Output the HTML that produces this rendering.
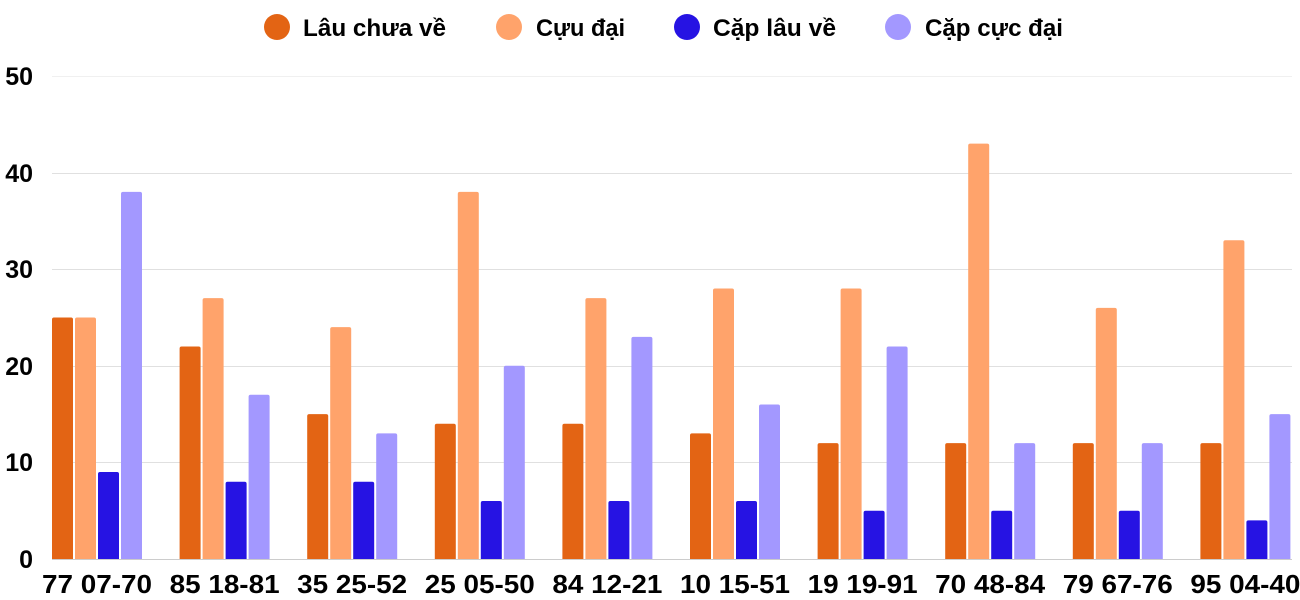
<!DOCTYPE html>
<html><head><meta charset="utf-8"><style>
html,body{margin:0;padding:0;background:#fff;}
svg{display:block;}
text{font-family:"Liberation Sans Narrow","Liberation Sans",sans-serif;font-weight:bold;fill:#000;}
</style></head><body>
<svg width="1300" height="600" xmlns="http://www.w3.org/2000/svg">
<g font-size="24">
<circle cx="277" cy="27" r="13" fill="#e36414"/><text x="303" y="36" textLength="143" lengthAdjust="spacingAndGlyphs">Lâu chưa về</text>
<circle cx="509" cy="27" r="13" fill="#ffa36b"/><text x="536" y="36" textLength="89" lengthAdjust="spacingAndGlyphs">Cựu đại</text>
<circle cx="687" cy="27" r="13" fill="#2613e3"/><text x="713" y="36" textLength="123" lengthAdjust="spacingAndGlyphs">Cặp lâu về</text>
<circle cx="898" cy="27" r="13" fill="#a398ff"/><text x="925" y="36" textLength="138" lengthAdjust="spacingAndGlyphs">Cặp cực đại</text>
</g>
<g stroke-width="1">
<line x1="52" x2="1292" y1="76.5" y2="76.5" stroke="#f0f0f0"/>
<line x1="52" x2="1292" y1="173.5" y2="173.5" stroke="#e0e0e0"/>
<line x1="52" x2="1292" y1="269.5" y2="269.5" stroke="#e0e0e0"/>
<line x1="52" x2="1292" y1="366.5" y2="366.5" stroke="#e0e0e0"/>
<line x1="52" x2="1292" y1="462.5" y2="462.5" stroke="#e0e0e0"/>
<line x1="52" x2="1292" y1="559.5" y2="559.5" stroke="#cccccc"/>
</g>
<g font-size="25" text-anchor="end">
<text x="33" y="85">50</text><text x="33" y="182">40</text><text x="33" y="278">30</text>
<text x="33" y="375">20</text><text x="33" y="471">10</text><text x="33" y="568">0</text>
</g>
<g id="bars"></g>
<g id="labels" font-size="26" text-anchor="middle"></g>
<script>
var L=[25,22,15,14,14,13,12,12,12,12],C=[25,27,24,38,27,28,28,43,26,33],P=[9,8,8,6,6,6,5,5,5,4],Q=[38,17,13,20,23,16,22,12,12,15];
var names=["77 07-70","85 18-81","35 25-52","25 05-50","84 12-21","10 15-51","19 19-91","70 48-84","79 67-76","95 04-40"];
var cols=["#e36414","#ffa36b","#2613e3","#a398ff"],data=[L,C,P,Q];
var ns="http://www.w3.org/2000/svg",b=document.getElementById("bars"),lb=document.getElementById("labels");
for(var g=0;g<10;g++){var x0=52+g*127.6;
 for(var s=0;s<4;s++){var h=data[s][g]*9.66,r=document.createElementNS(ns,"path");
  var x=x0+s*23,w=21,y=559-h;
  r.setAttribute("d","M"+x+" 559V"+(y+2)+"Q"+x+" "+y+" "+(x+2)+" "+y+"H"+(x+w-2)+"Q"+(x+w)+" "+y+" "+(x+w)+" "+(y+2)+"V559Z");
  r.setAttribute("fill",cols[s]);b.appendChild(r);}
 var t=document.createElementNS(ns,"text");t.setAttribute("x",x0+45);t.setAttribute("y",593);
 t.setAttribute("textLength","110");t.setAttribute("lengthAdjust","spacingAndGlyphs");
 t.textContent=names[g];lb.appendChild(t);}
</script>
</svg>
</body></html>
